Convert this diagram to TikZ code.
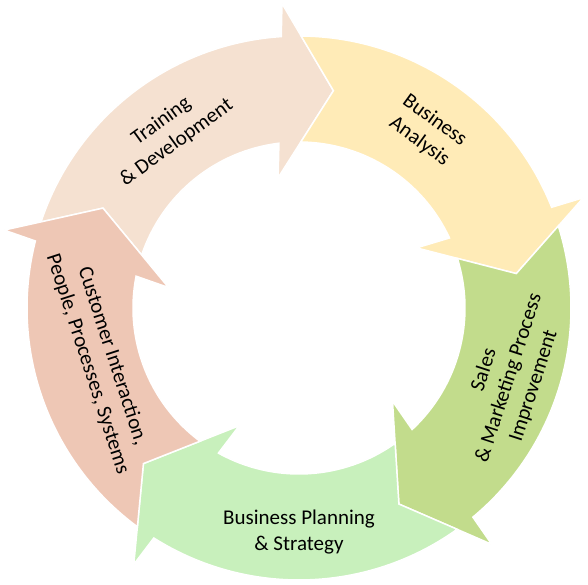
\documentclass[tikz,border=0pt]{standalone}
\usepackage{fontspec}
\setmainfont{Carlito}
\definecolor{peachc}{HTML}{F5E1D1}
\definecolor{yellowc}{HTML}{FFEBB7}
\definecolor{salesc}{HTML}{C2DC8C}
\definecolor{planc}{HTML}{C8F0BC}
\definecolor{pinkc}{HTML}{EEC7B5}
\begin{document}
\begin{tikzpicture}[x=1pt,y=1pt,
  seg/.style={draw=white, line width=1.5pt, line join=miter},
  lbl/.style={align=center, font=\fontsize{21}{26}\selectfont, inner sep=0pt, text=black}]
\useasboundingbox (-299,-277) rectangle (289,308);
\foreach \rot/\col in {81/peachc, 9/yellowc, -63/salesc, -135/planc, 153/pinkc} {
  \path[seg, fill=\col, rotate=\rot]
    (80.55:272pt) arc[start angle=80.55, end angle=12.74, radius=272pt]
    -- (12.2:305pt) -- (0:220pt) -- (18.1:132pt) -- (15.95:166pt)
    arc[start angle=15.95, end angle=80.38, radius=166pt]
    -- (72:220pt) -- cycle;
}
\node[lbl, rotate=36] (train) at (-130,176) {Training\\\& Development};
\node[lbl, rotate=-36] (anal) at (128,177) {Business\\Analysis};
\node[lbl, rotate=72] (sales) at (210,-70) {Sales\\\& Marketing Process\\Improvement};
\node[lbl] (plan) at (0,-224) {Business Planning\\\& Strategy};
\node[lbl, rotate=-72] (cust) at (-199,-52) {Customer Interaction,\\People, Processes, Systems};
\end{tikzpicture}
\end{document}
